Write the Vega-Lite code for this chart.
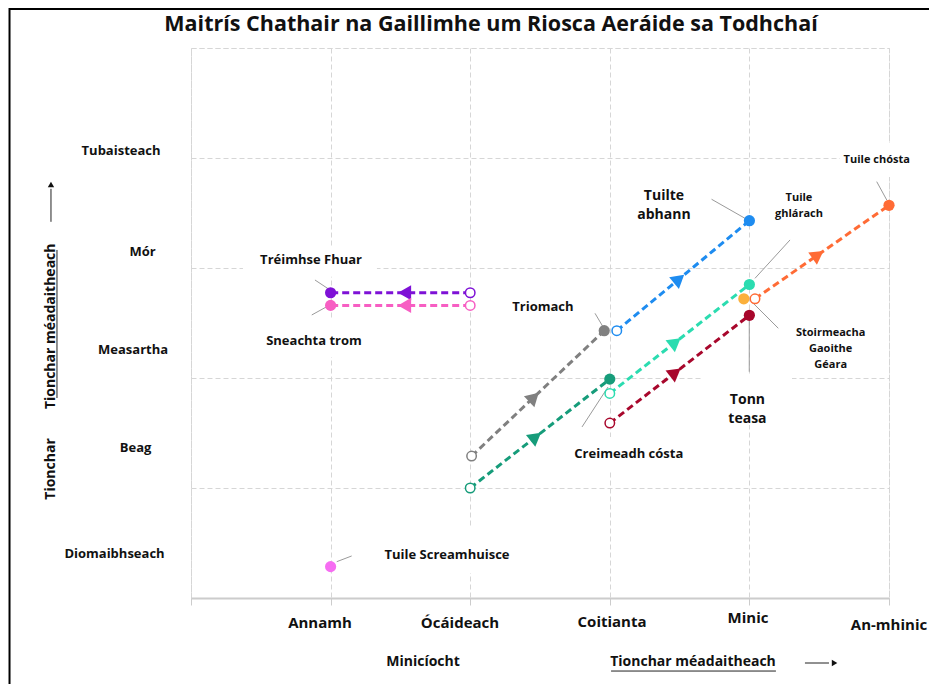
{
  "$schema": "https://vega.github.io/schema/vega-lite/v6.json",
  "width": 698,
  "height": 550,
  "autosize": {"type": "none"},
  "padding": {"left": 191, "top": 48, "right": 40, "bottom": 86},
  "background": "white",
  "config": {
    "view": {"stroke": "#d6d6d6", "strokeDash": [5, 3], "strokeWidth": 1},
    "font": "Open Sans",
    "axisX": {"labels": false, "tickCount": 5, "grid": true, "gridColor": "#d6d6d6", "gridDash": [5, 3], "gridWidth": 1, "domainColor": "#cccccc", "domainWidth": 2, "tickColor": "#cccccc", "tickSize": 7, "tickWidth": 1},
    "axisY": {"labels": false, "tickCount": 5, "grid": true, "gridColor": "#d6d6d6", "gridDash": [5, 3], "gridWidth": 1, "domain": false, "ticks": false}
  },
  "datasets": {
    "risks": [
      {"risk": "Tréimhse Fhuar", "x0": 2.0, "y0": 2.775, "x1": 1.0, "y1": 2.775},
      {"risk": "Sneachta trom", "x0": 2.0, "y0": 2.66, "x1": 1.0, "y1": 2.66},
      {"risk": "Triomach", "x0": 2.01, "y0": 1.29, "x1": 2.96, "y1": 2.43},
      {"risk": "Creimeadh cósta", "x0": 2.0, "y0": 1.0, "x1": 3.0, "y1": 1.99},
      {"risk": "Tuile ghlárach", "x0": 3.0, "y0": 1.86, "x1": 4.0, "y1": 2.85},
      {"risk": "Tuilte abhann", "x0": 3.05, "y0": 2.43, "x1": 4.0, "y1": 3.43},
      {"risk": "Tonn teasa", "x0": 3.0, "y0": 1.59, "x1": 4.0, "y1": 2.57},
      {"risk": "Tuile chósta", "x0": 4.04, "y0": 2.72, "x1": 5.0, "y1": 3.57},
      {"risk": "Tuile Screamhuisce", "x1": 1.0, "y1": 0.285},
      {"risk": "Stoirmeacha Gaoithe Géara", "x1": 3.96, "y1": 2.72}
    ],
    "boxes": [
      {"x": 0.372, "x2": 1.332, "y": 3.19, "y2": 2.92},
      {"x": 0.387, "x2": 1.354, "y": 2.527, "y2": 2.191},
      {"x": 1.211, "x2": 2.5, "y": 0.636, "y2": 0.227},
      {"x": 2.679, "x2": 3.682, "y": 1.464, "y2": 1.145},
      {"x": 3.66, "x2": 4.305, "y": 2.027, "y2": 1.573},
      {"x": 4.649, "x2": 5.287, "y": 4.136, "y2": 3.827}
    ],
    "leaders": [
      {"x": 3.729, "y": 3.625, "x2": 3.968, "y2": 3.452},
      {"x": 4.291, "y": 3.255, "x2": 4.04, "y2": 2.906},
      {"x": 4.912, "y": 3.785, "x2": 4.984, "y2": 3.618},
      {"x": 4.016, "y": 2.694, "x2": 4.207, "y2": 2.452},
      {"x": 3.999, "y": 2.527, "x2": 3.999, "y2": 2.057},
      {"x": 2.894, "y": 2.588, "x2": 2.951, "y2": 2.466},
      {"x": 2.801, "y": 1.555, "x2": 2.987, "y2": 1.918},
      {"x": 0.888, "y": 2.891, "x2": 0.996, "y2": 2.8},
      {"x": 0.865, "y": 2.573, "x2": 0.972, "y2": 2.648},
      {"x": 1.044, "y": 0.33, "x2": 1.151, "y2": 0.382}
    ],
    "decor": [
      {"x": 3.009, "y": -0.664, "x2": 4.19, "y2": -0.664, "part": "underline"},
      {"x": -0.96, "y": 3.164, "x2": -0.96, "y2": 1.818, "part": "underline"},
      {"x": 4.398, "y": -0.591, "x2": 4.57, "y2": -0.591, "part": "shaft"},
      {"x": -1.003, "y": 3.42, "x2": -1.003, "y2": 3.72, "part": "shaft"}
    ],
    "heads": [
      {"x": 4.61, "y": -0.591, "dir": "right"},
      {"x": -1.003, "y": 3.76, "dir": "up"}
    ],
    "frame": [
      {"x": -1.3, "x2": 5.6, "y": 5.355, "y2": -1.0}
    ],
    "labels": [
      {"text": "Maitrís Chathair na Gaillimhe um Riosca Aeráide sa Todhchaí", "x": 2.149, "y": 5.205, "kind": "title"},
      {"text": "Tubaisteach", "x": -0.501, "y": 4.066, "kind": "ytick"},
      {"text": "Mór", "x": -0.347, "y": 3.148, "kind": "ytick"},
      {"text": "Measartha", "x": -0.415, "y": 2.255, "kind": "ytick"},
      {"text": "Beag", "x": -0.397, "y": 1.366, "kind": "ytick"},
      {"text": "Diomaibhseach", "x": -0.548, "y": 0.397, "kind": "ytick"},
      {"text": "Annamh", "x": 0.924, "y": -0.227, "kind": "xtick"},
      {"text": "Ócáideach", "x": 1.927, "y": -0.227, "kind": "xtick"},
      {"text": "Coitianta", "x": 3.016, "y": -0.218, "kind": "xtick"},
      {"text": "Minic", "x": 3.99, "y": -0.182, "kind": "xtick"},
      {"text": "An-mhinic", "x": 5.0, "y": -0.245, "kind": "xtick"},
      {"text": "Minicíocht", "x": 1.662, "y": -0.582, "kind": "axisTitle"},
      {"text": "Tionchar méadaitheach", "x": 3.596, "y": -0.582, "kind": "axisTitle"},
      {"text": "Tionchar", "x": -1.003, "y": 1.173, "kind": "axisTitleV"},
      {"text": "Tionchar méadaitheach", "x": -1.003, "y": 2.47, "kind": "axisTitleV"},
      {"text": "Tréimhse Fhuar", "x": 0.86, "y": 3.073, "kind": "mid"},
      {"text": "Sneachta trom", "x": 0.881, "y": 2.336, "kind": "mid"},
      {"text": "Triomach", "x": 2.521, "y": 2.645, "kind": "mid"},
      {"text": "Creimeadh cósta", "x": 3.136, "y": 1.309, "kind": "mid"},
      {"text": "Tuile Screamhuisce", "x": 1.834, "y": 0.391, "kind": "mid"},
      {"text": "Tuilte\nabhann", "x": 3.388, "y": 3.659, "kind": "big"},
      {"text": "Tonn\nteasa", "x": 3.986, "y": 1.803, "kind": "big"},
      {"text": "Tuile\nghlárach", "x": 4.355, "y": 3.636, "kind": "small"},
      {"text": "Tuile chósta", "x": 4.912, "y": 3.982, "kind": "small"},
      {"text": "Stoirmeacha\nGaoithe\nGéara", "x": 4.582, "y": 2.412, "kind": "small"}
    ]
  },
  "layer": [
    {
      "data": {"name": "frame"},
      "mark": {"type": "rect", "filled": false, "stroke": "#000000", "strokeWidth": 2},
      "encoding": {
        "x": {"field": "x", "type": "quantitative", "title": null, "scale": {"domain": [0, 5], "nice": false, "zero": false}},
        "x2": {"field": "x2"},
        "y": {"field": "y", "type": "quantitative", "title": null, "scale": {"domain": [0, 5], "nice": false, "zero": false}},
        "y2": {"field": "y2"}
      }
    },
    {
      "data": {"name": "boxes"},
      "mark": {"type": "rect", "fill": "#ffffff", "stroke": null},
      "encoding": {
        "x": {"field": "x", "type": "quantitative", "title": null, "scale": {"domain": [0, 5], "nice": false, "zero": false}},
        "x2": {"field": "x2"},
        "y": {"field": "y", "type": "quantitative", "title": null, "scale": {"domain": [0, 5], "nice": false, "zero": false}},
        "y2": {"field": "y2"}
      }
    },
    {
      "data": {"name": "leaders"},
      "mark": {"type": "rule", "color": "#9a9a9a", "strokeWidth": 1},
      "encoding": {
        "x": {"field": "x", "type": "quantitative", "title": null, "scale": {"domain": [0, 5], "nice": false, "zero": false}},
        "x2": {"field": "x2"},
        "y": {"field": "y", "type": "quantitative", "title": null, "scale": {"domain": [0, 5], "nice": false, "zero": false}},
        "y2": {"field": "y2"}
      }
    },
    {
      "data": {"name": "decor"},
      "mark": {"type": "rule", "color": "#222222", "strokeWidth": 1},
      "encoding": {
        "x": {"field": "x", "type": "quantitative", "title": null, "scale": {"domain": [0, 5], "nice": false, "zero": false}},
        "x2": {"field": "x2"},
        "y": {"field": "y", "type": "quantitative", "title": null, "scale": {"domain": [0, 5], "nice": false, "zero": false}},
        "y2": {"field": "y2"}
      }
    },
    {
      "data": {"name": "heads"},
      "mark": {"type": "point", "filled": true, "color": "#111111", "size": 40, "opacity": 1},
      "encoding": {
        "x": {"field": "x", "type": "quantitative", "title": null, "scale": {"domain": [0, 5], "nice": false, "zero": false}},
        "y": {"field": "y", "type": "quantitative", "title": null, "scale": {"domain": [0, 5], "nice": false, "zero": false}},
        "shape": {"field": "dir", "type": "nominal", "scale": {"domain": ["up", "right"], "range": ["triangle-up", "triangle-right"]}, "legend": null}
      }
    },
    {
      "data": {"name": "risks"},
      "transform": [{"filter": "isValid(datum.x0)"}],
      "mark": {"type": "rule", "strokeWidth": 3, "strokeDash": [7, 4]},
      "encoding": {
        "x": {"field": "x0", "type": "quantitative", "title": null, "scale": {"domain": [0, 5], "nice": false, "zero": false}},
        "x2": {"field": "x1"},
        "y": {"field": "y0", "type": "quantitative", "title": null, "scale": {"domain": [0, 5], "nice": false, "zero": false}},
        "y2": {"field": "y1"},
        "color": {"field": "risk", "type": "nominal", "legend": null,
          "scale": {"domain": ["Tréimhse Fhuar", "Sneachta trom", "Triomach", "Creimeadh cósta", "Tuile ghlárach", "Tuilte abhann", "Tonn teasa", "Tuile chósta", "Tuile Screamhuisce", "Stoirmeacha Gaoithe Géara"],
            "range": ["#7e11d6", "#f75ec3", "#808080", "#169c7a", "#2bdcb0", "#1e8cf0", "#a8072c", "#ff6b35", "#f66df2", "#fbb03b"]}}
      }
    },
    {
      "data": {"name": "risks"},
      "transform": [
        {"filter": "isValid(datum.x0)"},
        {"calculate": "datum.x0 + 0.47 * (datum.x1 - datum.x0)", "as": "mx"},
        {"calculate": "datum.y0 + 0.47 * (datum.y1 - datum.y0)", "as": "my"},
        {"calculate": "atan2((datum.x1 - datum.x0) * 139.6, (datum.y1 - datum.y0) * 110) * 180 / PI", "as": "heading"}
      ],
      "mark": {"type": "point", "shape": "triangle-up", "filled": true, "size": 230, "opacity": 1},
      "encoding": {
        "x": {"field": "mx", "type": "quantitative", "title": null, "scale": {"domain": [0, 5], "nice": false, "zero": false}},
        "y": {"field": "my", "type": "quantitative", "title": null, "scale": {"domain": [0, 5], "nice": false, "zero": false}},
        "angle": {"field": "heading", "type": "quantitative", "scale": null},
        "color": {"field": "risk", "type": "nominal", "legend": null}
      }
    },
    {
      "data": {"name": "risks"},
      "transform": [{"filter": "isValid(datum.x0)"}],
      "mark": {"type": "point", "shape": "circle", "filled": false, "fill": "#ffffff", "fillOpacity": 1, "strokeWidth": 1.5, "size": 90, "opacity": 1},
      "encoding": {
        "x": {"field": "x0", "type": "quantitative", "title": null, "scale": {"domain": [0, 5], "nice": false, "zero": false}},
        "y": {"field": "y0", "type": "quantitative", "title": null, "scale": {"domain": [0, 5], "nice": false, "zero": false}},
        "stroke": {"field": "risk", "type": "nominal", "legend": null,
          "scale": {"domain": ["Tréimhse Fhuar", "Sneachta trom", "Triomach", "Creimeadh cósta", "Tuile ghlárach", "Tuilte abhann", "Tonn teasa", "Tuile chósta", "Tuile Screamhuisce", "Stoirmeacha Gaoithe Géara"],
            "range": ["#7e11d6", "#f75ec3", "#808080", "#169c7a", "#2bdcb0", "#1e8cf0", "#a8072c", "#ff6b35", "#f66df2", "#fbb03b"]}}
      }
    },
    {
      "data": {"name": "risks"},
      "mark": {"type": "point", "shape": "circle", "filled": true, "size": 125, "opacity": 1},
      "encoding": {
        "x": {"field": "x1", "type": "quantitative", "title": null, "scale": {"domain": [0, 5], "nice": false, "zero": false}},
        "y": {"field": "y1", "type": "quantitative", "title": null, "scale": {"domain": [0, 5], "nice": false, "zero": false}},
        "color": {"field": "risk", "type": "nominal", "legend": null}
      }
    },
    {
      "data": {"name": "labels"},
      "transform": [{"filter": "datum.kind == 'title'"}],
      "mark": {"type": "text", "fontSize": 21.5, "fontWeight": "bold", "color": "#111111", "baseline": "middle", "align": "center"},
      "encoding": {
        "x": {"field": "x", "type": "quantitative", "title": null, "scale": {"domain": [0, 5], "nice": false, "zero": false}},
        "y": {"field": "y", "type": "quantitative", "title": null, "scale": {"domain": [0, 5], "nice": false, "zero": false}},
        "text": {"field": "text"}
      }
    },
    {
      "data": {"name": "labels"},
      "transform": [{"filter": "datum.kind == 'ytick' || datum.kind == 'mid'"}],
      "mark": {"type": "text", "fontSize": 13, "fontWeight": "bold", "color": "#111111", "baseline": "middle", "align": "center"},
      "encoding": {
        "x": {"field": "x", "type": "quantitative", "title": null, "scale": {"domain": [0, 5], "nice": false, "zero": false}},
        "y": {"field": "y", "type": "quantitative", "title": null, "scale": {"domain": [0, 5], "nice": false, "zero": false}},
        "text": {"field": "text"}
      }
    },
    {
      "data": {"name": "labels"},
      "transform": [{"filter": "datum.kind == 'xtick'"}],
      "mark": {"type": "text", "fontSize": 15, "fontWeight": "bold", "color": "#111111", "baseline": "middle", "align": "center"},
      "encoding": {
        "x": {"field": "x", "type": "quantitative", "title": null, "scale": {"domain": [0, 5], "nice": false, "zero": false}},
        "y": {"field": "y", "type": "quantitative", "title": null, "scale": {"domain": [0, 5], "nice": false, "zero": false}},
        "text": {"field": "text"}
      }
    },
    {
      "data": {"name": "labels"},
      "transform": [{"filter": "datum.kind == 'axisTitle'"}],
      "mark": {"type": "text", "fontSize": 14, "fontWeight": "bold", "color": "#111111", "baseline": "middle", "align": "center"},
      "encoding": {
        "x": {"field": "x", "type": "quantitative", "title": null, "scale": {"domain": [0, 5], "nice": false, "zero": false}},
        "y": {"field": "y", "type": "quantitative", "title": null, "scale": {"domain": [0, 5], "nice": false, "zero": false}},
        "text": {"field": "text"}
      }
    },
    {
      "data": {"name": "labels"},
      "transform": [{"filter": "datum.kind == 'axisTitleV'"}],
      "mark": {"type": "text", "fontSize": 14, "fontWeight": "bold", "color": "#111111", "baseline": "middle", "align": "center", "angle": 270},
      "encoding": {
        "x": {"field": "x", "type": "quantitative", "title": null, "scale": {"domain": [0, 5], "nice": false, "zero": false}},
        "y": {"field": "y", "type": "quantitative", "title": null, "scale": {"domain": [0, 5], "nice": false, "zero": false}},
        "text": {"field": "text"}
      }
    },
    {
      "data": {"name": "labels"},
      "transform": [{"filter": "datum.kind == 'big'"}],
      "mark": {"type": "text", "fontSize": 14, "fontWeight": "bold", "color": "#111111", "baseline": "middle", "align": "center", "lineBreak": "\n", "lineHeight": 19},
      "encoding": {
        "x": {"field": "x", "type": "quantitative", "title": null, "scale": {"domain": [0, 5], "nice": false, "zero": false}},
        "y": {"field": "y", "type": "quantitative", "title": null, "scale": {"domain": [0, 5], "nice": false, "zero": false}},
        "text": {"field": "text"}
      }
    },
    {
      "data": {"name": "labels"},
      "transform": [{"filter": "datum.kind == 'small'"}],
      "mark": {"type": "text", "fontSize": 11, "fontWeight": "bold", "color": "#111111", "baseline": "middle", "align": "center", "lineBreak": "\n", "lineHeight": 16},
      "encoding": {
        "x": {"field": "x", "type": "quantitative", "title": null, "scale": {"domain": [0, 5], "nice": false, "zero": false}},
        "y": {"field": "y", "type": "quantitative", "title": null, "scale": {"domain": [0, 5], "nice": false, "zero": false}},
        "text": {"field": "text"}
      }
    }
  ]
}
